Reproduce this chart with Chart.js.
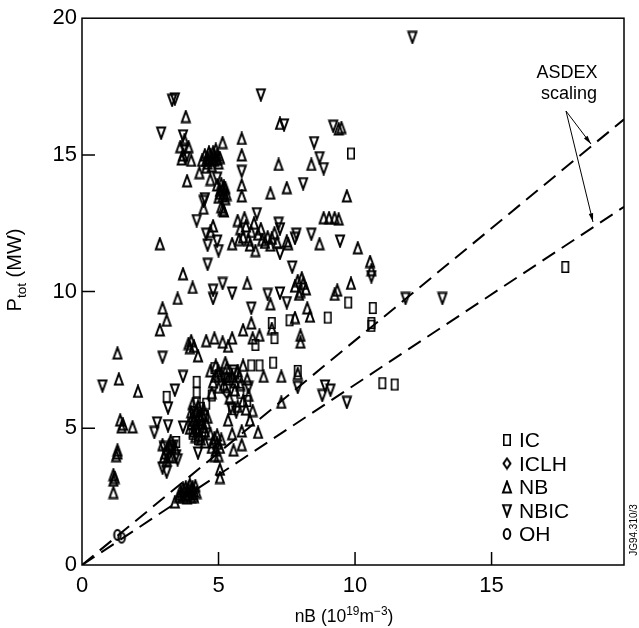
<!DOCTYPE html>
<html>
<head>
<meta charset="utf-8">
<script src="https://cdn.jsdelivr.net/npm/chart.js@4/dist/chart.umd.min.js"></script>
<style>
	html, body { margin: 0; padding: 0; background: #fff; }
	#wrap { width: 639px; height: 628px; }
</style>
</head>
<body>
<div id="wrap"><canvas id="chart"></canvas></div>
<script>
var xTicks = [0, 5, 10, 15];
var yTicks = [0, 5, 10, 15, 20];
var legendNames = ['IC', 'ICLH', 'NB', 'NBIC', 'OH'];

// nB (10^19 m^-3), Ptot (MW)
var icPoints = [
	[9.85,15.05],[17.7,10.9],[10.65,9.4],[10.6,8.75],[10.6,8.85],[11.0,6.65],[11.45,6.6],
	[9.75,9.6],[9.0,9.05],[7.6,8.95],[6.95,8.85],[7.05,8.3],[6.35,8.05],[6.5,7.3],[7.0,7.4],
	[7.9,7.1],[4.2,6.7],[3.1,6.15],[4.2,6.3],[4.2,5.95],[4.1,5.6],[4.3,5.3],[4.0,5.15],
	[4.4,4.9],[4.25,4.6],[4.75,6.2],[4.55,5.9],[3.3,4.3],[3.45,4.5],[4.85,7.2],[5.0,6.9],
	[5.3,6.5],[5.6,7.0],[5.8,6.3],[5.5,5.7],[6.05,6.0],[6.2,7.3],
	[4.15,5.35],[4.35,5.75],[4.05,4.8],[4.5,5.45]
];
var iclhPoints = [[4.35,5.1],[5.3,6.3]];
var nbPoints = [
	[3.8,16.4],[3.6,15.3],[3.7,15.0],[3.9,15.3],[3.75,15.55],[4.0,14.8],[3.65,14.85],[3.85,14.05],
	[4.3,14.35],[4.7,14.1],[4.4,14.8],[4.5,15.0],[4.6,14.7],[4.7,15.0],[4.8,15.1],[4.85,14.8],
	[4.95,15.0],[5.0,14.7],[4.75,14.6],[5.05,14.9],[4.55,14.55],[4.9,15.2],[5.15,15.45],
	[4.6,14.9],[4.65,15.1],[4.75,14.85],[4.85,14.95],[4.95,14.85],[4.55,14.8],
	[5.85,15.6],[5.85,15.0],[5.85,13.9],[5.85,13.5],[4.95,13.9],[5.05,13.7],[5.15,13.5],
	[5.25,13.8],[5.0,13.45],[5.2,13.6],[5.3,13.55],[5.1,13.95],[5.15,13.0],[5.1,13.1],
	[5.05,13.6],[5.15,13.75],[5.25,13.4],[5.2,13.85],
	[5.2,12.95],[4.45,13.05],[4.8,12.4],[4.7,12.2],[2.85,11.75],[5.5,11.75],
	[5.7,12.6],[5.8,12.3],[5.9,12.0],[6.0,12.4],[6.1,11.9],[5.75,11.9],[6.2,12.2],[5.95,12.7],
	[6.3,12.5],[6.45,12.1],[6.6,11.9],[6.55,12.3],[6.7,11.8],[6.8,12.0],[6.95,11.95],
	[7.05,12.15],[6.9,11.7],[7.15,11.8],[6.35,11.5],[6.15,11.7],[7.55,11.75],[7.5,11.85],
	[6.9,13.6],[7.5,13.8],[7.2,14.65],[8.4,14.65],[7.25,16.15],[9.4,15.95],[9.5,16.0],
	[9.7,13.5],[8.85,12.7],[9.05,12.7],[9.25,12.7],[9.4,12.65],[8.7,11.75],[10.1,11.6],
	[10.55,11.1],[10.6,10.8],[9.85,10.3],[9.25,9.9],[9.35,10.05],[3.7,10.65],[4.05,10.15],
	[6.05,10.3],[3.5,9.75],[2.95,9.4],[3.1,8.95],[2.85,8.6],[7.8,10.2],[7.9,10.4],[8.0,10.0],
	[8.1,10.3],[8.2,10.1],[7.95,9.9],[8.05,10.5],[8.25,9.4],[8.35,9.1],[7.8,9.05],[6.2,8.85],
	[6.9,9.55],[6.95,8.65],[8.0,8.4],[8.0,8.15],[5.9,8.6],[6.25,8.3],[6.5,8.4],[6.65,6.9],
	[7.3,6.9],[7.9,7.0],[7.3,5.95],[3.9,8.1],[4.0,8.2],[4.1,8.0],[3.95,7.95],[4.55,8.2],
	[4.85,8.3],[5.15,8.15],[5.5,8.3],[5.35,8.0],[4.25,7.65],[1.3,7.75],[1.35,6.8],[2.05,6.35],
	[1.4,5.3],[1.5,5.15],[1.45,5.05],[1.85,5.05],[1.3,4.1],[1.3,4.2],[1.25,4.0],[1.15,3.1],
	[1.15,3.3],[1.2,3.2],[1.15,2.65],
	[4.7,7.1],[4.9,7.3],[5.1,7.0],[5.3,7.2],[5.5,6.9],[5.7,7.1],[5.9,7.3],[6.05,6.8],[4.8,6.7],
	[5.0,6.5],[5.2,6.6],[5.6,6.4],[5.8,6.6],[6.1,6.2],[5.9,6.0],[5.4,6.1],[5.7,5.8],[6.0,5.7],
	[4.75,6.3],[5.25,7.4],[5.0,7.1],[5.4,6.8],[5.6,6.7],[5.3,6.9],[5.75,6.9],[4.9,6.9],
	[5.35,5.3],[5.5,4.8],[5.85,4.9],[6.15,5.3],[6.45,4.85],[6.25,5.65],
	[5.55,4.2],[5.85,4.4],[5.05,3.2],[5.05,3.5],[4.7,4.8],[4.8,4.5],[4.9,4.2],[5.0,4.0],
	[5.1,4.6],[4.85,4.0],[4.95,4.75],[4.75,4.3],[4.85,4.65],[4.95,4.45],[5.05,4.3],
	[4.0,5.6],[4.1,5.3],[4.2,5.0],[4.3,5.5],[4.4,5.2],
	[4.5,4.9],[4.15,4.7],[4.35,4.6],[4.05,5.9],[4.45,5.7],[4.6,5.4],[4.25,5.8],[3.95,5.0],
	[4.5,4.5],[4.05,5.45],[4.15,5.15],[4.25,4.95],[4.35,5.35],[4.45,5.05],[4.2,5.65],
	[4.3,4.75],[4.1,4.9],[4.4,5.5],[4.55,5.2],
	[2.95,4.4],[3.05,4.1],[3.2,4.4],[3.3,3.95],[3.4,4.3],[3.1,3.85],[3.0,3.95],[3.25,4.55],[3.2,4.0],
	[3.6,2.7],[3.7,2.5],[3.8,2.85],[3.9,2.6],[4.0,2.75],[4.1,2.5],[4.15,2.9],[3.85,2.45],
	[3.95,2.95],[4.05,2.6],[3.75,2.7],[3.4,2.3],[3.55,2.5],[4.2,2.65],
	[3.65,2.6],[3.8,2.55],[3.9,2.8],[4.0,2.5],[4.05,2.85],[3.7,2.8],[3.85,2.7],[4.1,2.7]
];
var nbicPoints = [
	[3.3,17.0],[3.4,17.05],[2.9,15.8],[6.55,17.2],[7.4,16.1],[9.2,16.05],[3.7,15.7],[3.8,14.9],
	[3.75,15.2],[8.5,15.45],[8.7,14.9],[8.85,14.5],[5.85,14.4],[4.95,14.15],[4.45,13.3],
	[4.5,13.4],[4.2,12.6],[4.55,12.1],[4.6,11.7],[4.95,11.85],[5.0,11.5],[4.6,11.0],[8.1,13.95],
	[6.4,12.85],[7.2,12.5],[7.25,12.3],[7.85,12.1],[7.8,11.95],[8.4,12.1],[7.25,11.4],
	[9.45,11.85],[7.7,10.9],[10.6,10.55],[4.8,10.05],[4.8,9.75],[5.15,10.3],[5.5,9.95],
	[6.2,9.4],[6.8,9.9],[7.25,9.95],[7.5,9.6],[11.85,9.75],[13.2,9.75],[12.1,19.3],
	[7.9,6.5],[8.9,6.55],[8.8,6.2],[9.1,6.4],[9.7,5.95],[0.75,6.55],[2.95,7.6],[3.7,6.9],
	[3.4,6.4],[3.15,5.75],[2.75,5.2],[2.65,4.85],[3.15,5.1],[3.7,5.05],[4.25,4.1],[2.95,3.55],
	[3.1,3.4],[3.5,3.85],[3.0,4.3],[3.25,4.2],[3.45,4.0],[3.1,4.05],[3.35,4.35],
	[5.2,6.8],[5.55,7.1],[6.1,6.5],[5.65,5.6],[5.45,5.75]
];
var ohPoints = [[1.3,1.1],[1.45,1.0]];

// ASDEX scaling lines
var asdexUpper = [[0,0],[19.85,16.3]];
var asdexLower = [[0,0],[19.85,13.1]];

var FONT = '"Liberation Sans", Arial, Helvetica, sans-serif';

function toXY(list) {
	return list.map(function (p) { return {x: p[0], y: p[1]}; });
}

function marker(kind) {
	var c = document.createElement('canvas'), g;
	c.width = 12; c.height = 14;
	g = c.getContext('2d');
	g.strokeStyle = '#000';
	g.lineWidth = 2;
	g.beginPath();
	if (kind == 'NB') {
		g.moveTo(6, 1.5); g.lineTo(10, 12.5); g.lineTo(2, 12.5); g.closePath();
	} else if (kind == 'NBIC') {
		g.moveTo(2, 1.5); g.lineTo(10, 1.5); g.lineTo(6, 12.5); g.closePath();
	} else if (kind == 'IC') {
		g.lineWidth = 1.6;
		g.rect(2.8, 1.8, 6.4, 10.4);
	} else if (kind == 'ICLH') {
		g.moveTo(6, 2); g.lineTo(9.5, 7); g.lineTo(6, 12); g.lineTo(2.5, 7); g.closePath();
	} else {
		g.ellipse(6, 7, 3.3, 5, 0, 0, Math.PI * 2);
	}
	g.stroke();
	return c;
}

var markers = {
	IC: marker('IC'), ICLH: marker('ICLH'), NB: marker('NB'), NBIC: marker('NBIC'), OH: marker('OH')
};

function pointSet(label, list) {
	return {
		label: label,
		data: toXY(list),
		pointStyle: markers[label],
		pointRadius: 6,
		showLine: false
	};
}

function lineSet(label, list) {
	return {
		label: label,
		data: toXY(list),
		showLine: true,
		borderColor: '#000',
		borderWidth: 2,
		borderDash: [15, 8],
		pointRadius: 0,
		fill: false
	};
}

// draws text runs with superscript / subscript parts, returns width
function drawRuns(ctx, runs, x, y, size, measureOnly) {
	var w = 0;
	runs.forEach(function (r) {
		var s = r.sup || r.sub ? size * 0.68 : size;
		ctx.font = s + 'px ' + FONT;
		var dy = r.sup ? -size * 0.4 : (r.sub ? size * 0.25 : 0);
		if (!measureOnly) ctx.fillText(r.t, x + w, y + dy);
		w += ctx.measureText(r.t).width;
	});
	return w;
}

function arrow(ctx, x1, y1, x2, y2) {
	var a = Math.atan2(y2 - y1, x2 - x1), l = 9;
	ctx.beginPath();
	ctx.moveTo(x1, y1);
	ctx.lineTo(x2, y2);
	ctx.stroke();
	ctx.beginPath();
	ctx.moveTo(x2, y2);
	ctx.lineTo(x2 - l * Math.cos(a - 0.25), y2 - l * Math.sin(a - 0.25));
	ctx.lineTo(x2 - l * Math.cos(a + 0.25), y2 - l * Math.sin(a + 0.25));
	ctx.closePath();
	ctx.fill();
}

var decorations = {
	id: 'decorations',
	afterDraw: function (chart) {
		var ctx = chart.ctx, a = chart.chartArea,
			xs = chart.scales.x, ys = chart.scales.y, w, i;
		ctx.save();
		ctx.strokeStyle = '#000';
		ctx.fillStyle = '#000';

		// frame
		ctx.lineWidth = 1.5;
		ctx.strokeRect(a.left, a.top, a.right - a.left, a.bottom - a.top);

		// inward tick marks
		ctx.beginPath();
		xTicks.forEach(function (v) {
			if (v <= xs.min || v >= xs.max) return;
			var px = xs.getPixelForValue(v);
			ctx.moveTo(px, a.bottom); ctx.lineTo(px, a.bottom - 13);
		});
		yTicks.forEach(function (v) {
			if (v <= ys.min || v >= ys.max) return;
			var py = ys.getPixelForValue(v);
			ctx.moveTo(a.left, py); ctx.lineTo(a.left + 13, py);
		});
		ctx.stroke();

		// axis titles
		ctx.textBaseline = 'alphabetic';
		ctx.textAlign = 'left';
		var xRuns = [{t: 'nB (10'}, {t: '19', sup: true}, {t: 'm'}, {t: '\u22123', sup: true}, {t: ')'}];
		w = drawRuns(ctx, xRuns, 0, 0, 17.5, true);
		drawRuns(ctx, xRuns, 344 - w / 2, 622, 17.5);

		var yRuns = [{t: 'P'}, {t: 'tot', sub: true}, {t: ' (MW)'}];
		ctx.save();
		ctx.translate(21, 270);
		ctx.rotate(-Math.PI / 2);
		w = drawRuns(ctx, yRuns, 0, 0, 20, true);
		drawRuns(ctx, yRuns, -w / 2, 0, 20);
		ctx.restore();

		// annotation
		ctx.textAlign = 'center';
		ctx.font = '18px ' + FONT;
		ctx.fillText('ASDEX', 567, 78);
		ctx.fillText('scaling', 569, 99);
		ctx.lineWidth = 1;
		arrow(ctx, 566, 111, 591, 144);
		arrow(ctx, 566, 111, 593, 222);

		// legend
		ctx.textAlign = 'left';
		ctx.font = '21px ' + FONT;
		for (i = 0; i < legendNames.length; i++) {
			var by = 447 + i * 23.5, m = markers[legendNames[i]];
			ctx.drawImage(m, 507 - m.width / 2, by - 7 - m.height / 2);
			ctx.fillText(legendNames[i], 519, by);
		}

		// figure reference
		ctx.save();
		ctx.translate(637, 530);
		ctx.rotate(-Math.PI / 2);
		ctx.textAlign = 'center';
		ctx.font = '10px ' + FONT;
		ctx.fillText('JG94.310/3', 0, 0);
		ctx.restore();

		ctx.restore();
	}
};

var tickFont = {family: FONT, size: 22};

new Chart(document.getElementById('chart'), {
	type: 'scatter',
	data: {
		datasets: [
			lineSet('ASDEX upper', asdexUpper),
			lineSet('ASDEX lower', asdexLower),
			pointSet('IC', icPoints),
			pointSet('ICLH', iclhPoints),
			pointSet('NB', nbPoints),
			pointSet('NBIC', nbicPoints),
			pointSet('OH', ohPoints)
		]
	},
	options: {
		responsive: true,
		maintainAspectRatio: false,
		animation: false,
		events: [],
		layout: {padding: {left: 0, top: 16, right: 15, bottom: 0}},
		plugins: {legend: {display: false}, tooltip: {enabled: false}},
		scales: {
			x: {
				type: 'linear', min: 0, max: 19.85,
				afterBuildTicks: function (s) { s.ticks = xTicks.map(function (v) { return {value: v}; }); },
				afterFit: function (s) { s.height = 63; },
				grid: {display: false, drawTicks: false},
				border: {display: false},
				ticks: {font: tickFont, color: '#000', padding: 8, maxRotation: 0}
			},
			y: {
				type: 'linear', min: 0, max: 20,
				afterBuildTicks: function (s) { s.ticks = yTicks.map(function (v) { return {value: v}; }); },
				afterFit: function (s) { s.width = 82; },
				grid: {display: false, drawTicks: false},
				border: {display: false},
				ticks: {font: tickFont, color: '#000', padding: 5}
			}
		}
	},
	plugins: [decorations]
});
</script>
</body>
</html>
